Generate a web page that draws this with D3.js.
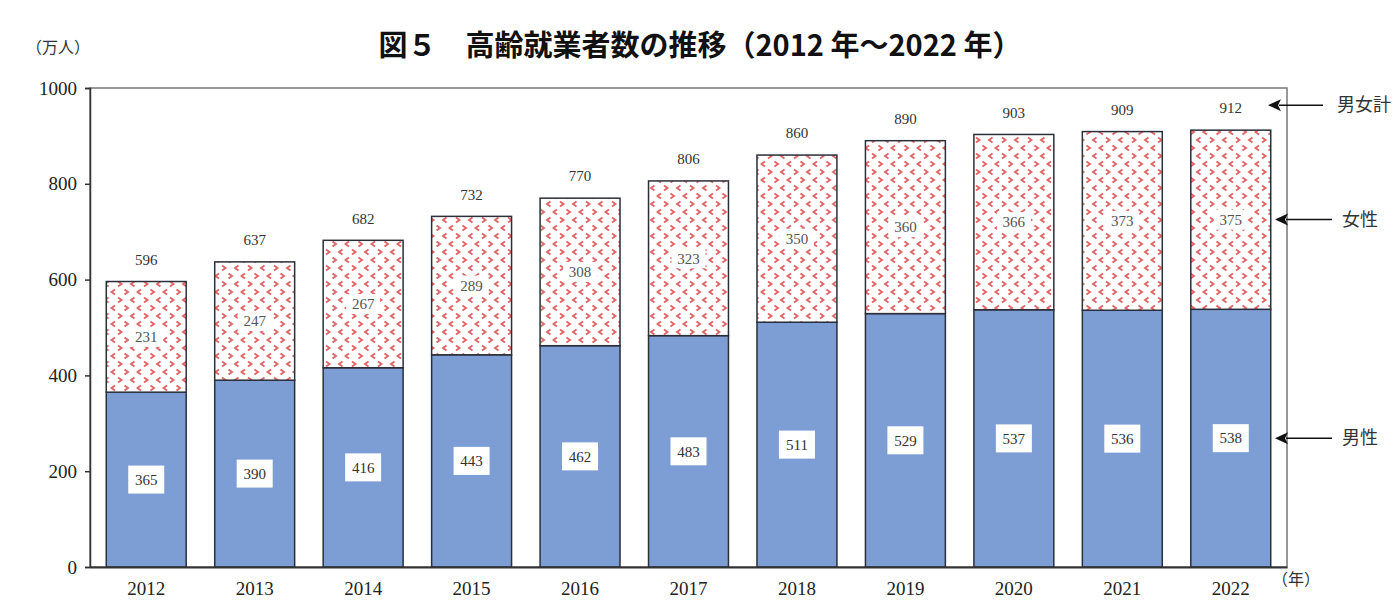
<!DOCTYPE html>
<html>
<head>
<meta charset="utf-8">
<style>
  body { margin: 0; background: #fff; }
  text { font-family: "Liberation Serif", "DejaVu Serif", serif; }
</style>
<title>図5 高齢就業者数の推移</title>
</head>
<body>
<script src="https://cdn.jsdelivr.net/npm/d3@7"></script>
<script>
  // data
  var years = ["2012", "2013", "2014", "2015", "2016", "2017", "2018", "2019", "2020", "2021", "2022"];
  var male = [365, 390, 416, 443, 462, 483, 511, 529, 537, 536, 538];
  var female = [231, 247, 267, 289, 308, 323, 350, 360, 366, 373, 375];
  var total = [596, 637, 682, 732, 770, 806, 860, 890, 903, 909, 912];
  var yTicks = [0, 200, 400, 600, 800, 1000];

  var margin = {top: 88, right: 110, bottom: 46, left: 90},
      width = 1397 - margin.left - margin.right,
      height = 613 - margin.top - margin.bottom;

  var svg = d3.select("body").append("svg")
    .attr("width", 1397)
    .attr("height", 613);

  // chevron pattern for women
  var defs = svg.append("defs");
  var pat = defs.append("pattern")
    .attr("id", "chev")
    .attr("patternUnits", "userSpaceOnUse")
    .attr("width", 26)
    .attr("height", 16);
  pat.append("rect").attr("width", 26).attr("height", 16).attr("fill", "#fff");
  var chev = [
    "M2,1.5 L5.5,4 L2,6.5",         // >
    "M18.5,1.5 L15,4 L18.5,6.5",    // <
    "M8.5,9.5 L12,12 L8.5,14.5",    // >
    "M25,9.5 L21.5,12 L25,14.5"     // <
  ];
  chev.forEach(function(p) {
    pat.append("path")
      .attr("d", p)
      .attr("fill", "none").attr("stroke", "#e26466").attr("stroke-width", 1.9);
  });

  var g = svg.append("g")
    .attr("transform", "translate(" + margin.left + "," + margin.top + ")");

  var x = d3.scaleBand().domain(years).range([0, width]).paddingInner(0.263).paddingOuter(0.15);
  var y = d3.scaleLinear().domain([0, 1000]).range([height, 0]);

  // frame
  g.append("rect")
    .attr("width", width).attr("height", height)
    .attr("fill", "none").attr("stroke", "#777").attr("stroke-width", 1.5);

  var rows = years.map(function(d, i) { return {year: d, m: male[i], f: female[i], t: total[i]}; });

  // male bars
  g.selectAll(".male").data(rows).enter().append("rect")
    .attr("class", "male")
    .attr("x", d => x(d.year))
    .attr("width", x.bandwidth())
    .attr("y", d => y(d.m))
    .attr("height", d => y(0) - y(d.m))
    .attr("fill", "#7d9ed4")
    .attr("stroke", "#2b2f3a").attr("stroke-width", 1.5);

  // female bars
  g.selectAll(".female").data(rows).enter().append("rect")
    .attr("class", "female")
    .attr("x", d => x(d.year))
    .attr("width", x.bandwidth())
    .attr("y", d => y(d.t))
    .attr("height", d => y(d.m) - y(d.t))
    .attr("fill", "url(#chev)")
    .attr("stroke", "#2b2f3a").attr("stroke-width", 1.5);

  // male labels in white boxes
  g.selectAll(".mbox").data(rows).enter().append("rect")
    .attr("x", d => x(d.year) + x.bandwidth() / 2 - 18)
    .attr("y", d => (y(d.m) + y(0)) / 2 - 14)
    .attr("width", 36).attr("height", 28)
    .attr("fill", "#fff");
  g.selectAll(".mlab").data(rows).enter().append("text")
    .attr("x", d => x(d.year) + x.bandwidth() / 2)
    .attr("y", d => (y(d.m) + y(0)) / 2)
    .attr("dy", "0.35em")
    .attr("text-anchor", "middle")
    .attr("font-size", 15).attr("fill", "#333")
    .text(d => d.m);

  // female labels
  g.selectAll(".fbox").data(rows).enter().append("rect")
    .attr("x", d => x(d.year) + x.bandwidth() / 2 - 17)
    .attr("y", d => (y(d.t) + y(d.m)) / 2 - 10)
    .attr("width", 34).attr("height", 20)
    .attr("fill", "#fff");
  g.selectAll(".flab").data(rows).enter().append("text")
    .attr("x", d => x(d.year) + x.bandwidth() / 2)
    .attr("y", d => (y(d.t) + y(d.m)) / 2)
    .attr("dy", "0.35em")
    .attr("text-anchor", "middle")
    .attr("font-size", 15).attr("fill", "#555")
    .text(d => d.f);

  // total labels
  g.selectAll(".tlab").data(rows).enter().append("text")
    .attr("x", d => x(d.year) + x.bandwidth() / 2)
    .attr("y", d => y(d.t) - 22)
    .attr("dy", "0.35em")
    .attr("text-anchor", "middle")
    .attr("font-size", 15).attr("fill", "#333")
    .text(d => d.t);

  // axes
  var yAxis = g.append("g")
    .call(d3.axisLeft(y).tickValues(yTicks).tickFormat(d3.format("d")).tickSize(5).tickPadding(8));
  yAxis.selectAll("text").attr("font-size", 19).attr("fill", "#222")
    .style("font-family", "'Liberation Serif', serif");
  yAxis.selectAll("line, path").attr("stroke", "#333").attr("stroke-width", 1.5);

  var xAxis = g.append("g")
    .attr("transform", "translate(0," + height + ")")
    .call(d3.axisBottom(x).tickSize(0).tickPadding(15));
  xAxis.selectAll("text").attr("font-size", 19).attr("fill", "#222")
    .style("font-family", "'Liberation Serif', serif");
  xAxis.select("path").attr("stroke", "#333").attr("stroke-width", 2);

  // unit labels
  svg.append("text")
    .attr("x", 26).attr("y", 53)
    .attr("font-size", 16).attr("fill", "#333")
    .style("font-family", "'Noto Sans CJK JP', sans-serif")
    .text("（万人）");
  svg.append("text")
    .attr("x", 1272).attr("y", 585)
    .attr("font-size", 16).attr("fill", "#333")
    .style("font-family", "'Noto Sans CJK JP', sans-serif")
    .text("（年）");

  // title
  svg.append("text")
    .attr("x", 700).attr("y", 56)
    .attr("text-anchor", "middle")
    .attr("font-size", 29).attr("font-weight", "bold").attr("fill", "#111")
    .style("font-family", "'Noto Sans CJK JP', sans-serif")
    .text("図５　高齢就業者数の推移（2012 年～2022 年）");

  // legend arrows pointing at the last bar
  var legend = [
    {label: "男女計", v: total[10], xEnd: 1268, x1: 1323, tx: 1337, off: -25},
    {label: "女性", v: male[10] + female[10] * 0.5, xEnd: 1275, x1: 1332, tx: 1342, off: 0},
    {label: "男性", v: male[10] * 0.5, xEnd: 1275, x1: 1332, tx: 1342, off: 0}
  ];
  legend.forEach(function(l) {
    var yy = y(l.v) + l.off + margin.top;
    svg.append("line")
      .attr("x1", l.x1).attr("x2", l.xEnd + 11)
      .attr("y1", yy).attr("y2", yy)
      .attr("stroke", "#111").attr("stroke-width", 1.5);
    svg.append("path")
      .attr("d", "M" + l.xEnd + "," + yy + " l13,-6 l-3,6 l3,6 Z")
      .attr("fill", "#111");
    svg.append("text")
      .attr("x", l.tx).attr("y", yy)
      .attr("dy", "0.35em")
      .attr("font-size", 18).attr("fill", "#333")
      .style("font-family", "'Noto Sans CJK JP', sans-serif")
      .text(l.label);
  });
</script>
</body>
</html>
